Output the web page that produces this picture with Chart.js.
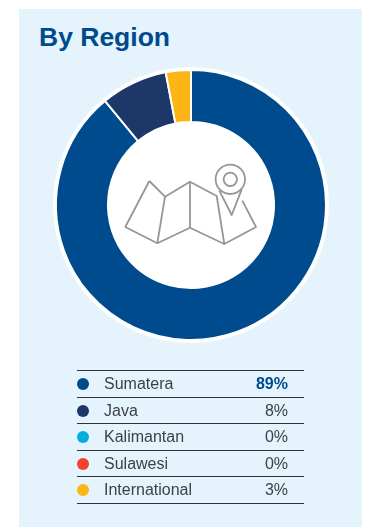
<!DOCTYPE html>
<html>
<head>
<meta charset="utf-8">
<title>By Region</title>
<script src="https://cdn.jsdelivr.net/npm/chart.js@4"></script>
<style>
  html, body { margin: 0; padding: 0; background: #fff; }
  body { position: relative; width: 367px; height: 529px; overflow: hidden; font-family: "Liberation Sans", Arial, sans-serif; }
  #panel { position: absolute; left: 19px; top: 9px; width: 343px; height: 518px; background: #e5f4fc; }
  h1 { position: absolute; left: 39px; top: 22px; margin: 0; font-size: 26.5px; line-height: 30px; font-weight: bold; color: #004b8d; }
  #wrap { position: absolute; left: 41px; top: 55px; width: 300px; height: 300px; }
  #icon { position: absolute; left: 0; top: 0; pointer-events: none; }
  #legend { position: absolute; left: 77px; top: 370px; width: 227px; border-top: 1px solid #333; }
  .row { position: relative; height: 25.5px; border-bottom: 1px solid #333; font-size: 16px; line-height: 26px; color: #3c4146; }
  .dot { position: absolute; left: 0; top: 7px; width: 12px; height: 12px; border-radius: 50%; }
  .name { position: absolute; left: 27px; }
  .pct { position: absolute; right: 16px; }
  .row.top .pct { font-weight: bold; color: #004b8d; }
</style>
</head>
<body>
<div id="panel"></div>
<h1>By Region</h1>
<div id="wrap"><canvas id="myChart" width="300" height="300"></canvas></div>

<!-- map and pin in the hole of the doughnut -->
<svg id="icon" width="367" height="529" fill="none" stroke="#969696" stroke-width="1.8" stroke-linejoin="round">
  <path d="M149.3 181 L165 196.7 L190 181.7 L216.7 196 L224.3 244 L256 227 L242.3 200.7" />
  <path d="M149.3 181 L125.3 227 L157.3 243.3 L190 227.7 L224.3 244" />
  <path d="M165 196.7 L157.3 243.3 M190 181.7 L190 227.7" />
  <path d="M219.3 190.7 L231.7 215 L241.7 189.3" />
  <circle cx="230.3" cy="179.3" r="14.7" fill="#fff" />
  <circle cx="230.3" cy="179.3" r="6.7" />
</svg>

<div id="legend"></div>

<script>
const labels = ['Sumatera', 'Java', 'Kalimantan', 'Sulawesi', 'International'];
const values = [89, 8, 0, 0, 3];
const colors = ['#004b8d', '#1c3768', '#00b0dc', '#f04430', '#fdb515'];

// white disc behind the slices, fills the hole and leaves a ring round the outside
const backdrop = {
  id: 'backdrop',
  beforeDatasetsDraw(chart) {
    const arc = chart.getDatasetMeta(0).data[0];
    const ctx = chart.ctx;
    ctx.save();
    ctx.fillStyle = '#fff';
    ctx.beginPath();
    ctx.arc(arc.x, arc.y, arc.outerRadius + 3, 0, Math.PI * 2);
    ctx.fill();
    ctx.restore();
  }
};

new Chart(document.getElementById('myChart'), {
  type: 'doughnut',
  data: {
    labels: labels,
    datasets: [{
      data: values,
      backgroundColor: colors,
      borderColor: '#fff',
      borderWidth: 2,
      borderAlign: 'center'
    }]
  },
  options: {
    responsive: false,
    animation: false,
    radius: 135,
    cutout: '61.5%',
    plugins: {
      legend: { display: false },
      tooltip: { enabled: false }
    }
  },
  plugins: [backdrop]
});

// legend table below the chart
const legend = document.getElementById('legend');
labels.forEach((name, i) => {
  const row = document.createElement('div');
  row.className = i === 0 ? 'row top' : 'row';
  row.innerHTML = '<span class="dot" style="background:' + colors[i] + '"></span>' +
    '<span class="name">' + name + '</span>' +
    '<span class="pct">' + values[i] + '%</span>';
  legend.appendChild(row);
});
</script>
</body>
</html>
